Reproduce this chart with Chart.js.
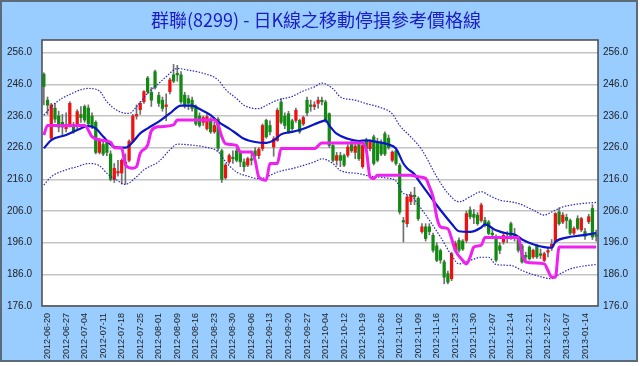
<!DOCTYPE html>
<html><head><meta charset="utf-8">
<script src="https://cdn.jsdelivr.net/npm/chart.js@4.4.0/dist/chart.umd.min.js"></script>
<style>
html,body{margin:0;padding:0;background:#fff;}
canvas{display:block;}
</style></head><body>
<canvas id="c" width="640" height="366"></canvas>
<script>
const title='群聯(8299) - 日K線之移動停損參考價格線';
const dateLabels=['2012-06-20','2012-06-27','2012-07-04','2012-07-11','2012-07-18','2012-07-25','2012-08-01','2012-08-09','2012-08-16','2012-08-23','2012-08-30','2012-09-06','2012-09-13','2012-09-20','2012-09-27','2012-10-04','2012-10-12','2012-10-19','2012-10-26','2012-11-02','2012-11-09','2012-11-16','2012-11-23','2012-11-30','2012-12-07','2012-12-14','2012-12-21','2012-12-27','2013-01-07','2013-01-14'];
const yTicks=[176,186,196,206,216,226,236,246,256];

// daily candles (index 0 = first trading day shown)
const open=[249.2,241.0,229.0,238.5,236.0,234.0,232.0,233.0,232.6,232.6, 236.5,239.0,238.5,236.0,234.0,224.5,227.0,228.0,224.0,216.0, 218.0,218.0,221.0,222.0,228.0,236.0,238.0,240.5,248.0,243.5, 250.0,242.5,241.0,239.0,243.7,249.0,249.5,249.0,242.6,241.5, 241.0,239.0,236.0,234.0,232.0,235.0,231.0,235.0,225.0,216.5, 221.5,223.0,225.0,224.5,221.5,220.5,222.5,225.0,223.5,225.7, 234.6,233.0,226.2,228.3,240.4,236.0,236.7,234.5,234.6,234.6, 233.5,241.0,239.5,239.0,240.0,241.0,240.4,236.7,226.7,222.0, 223.5,223.5,223.6,227.0,224.5,227.0,220.0,228.3,225.7,229.4, 228.0,227.5,230.4,229.0,222.0,225.0,220.4,203.0,202.0,209.0, 211.0,210.0,199.5,201.0,201.0,198.3,195.0,193.5,189.9,186.2, 184.6,193.6,196.7,196.5,196.7,206.3,205.0,204.7,203.0,203.0, 202.5,199.0,198.0,195.0,196.2,198.0,202.0,198.5,197.3,195.0, 192.0,194.6,191.5,195.0,192.5,190.4,193.0,194.5,196.2,205.7, 202.5,204.0,203.0,199.0,203.6,200.0,199.5,202.6,206.8,198.5];
const high=[249.6,242.0,240.0,240.0,237.5,236.5,237.0,240.5,234.0,238.0, 239.0,239.5,239.5,237.0,234.5,229.0,228.0,228.5,225.0,221.0, 222.0,222.5,224.0,228.5,236.5,239.5,240.5,244.0,248.5,245.0, 250.5,243.5,242.0,243.0,248.0,252.3,252.0,250.0,243.5,242.5, 242.0,239.5,237.0,236.0,236.5,235.5,234.0,235.5,225.5,221.0, 224.0,225.0,226.0,225.0,222.5,223.0,225.0,226.0,226.0,233.5, 235.0,234.5,229.5,238.5,241.5,237.0,237.5,235.0,238.5,235.0, 236.0,242.0,241.0,240.5,242.0,242.0,241.0,237.0,227.0,224.5, 224.5,224.0,227.0,228.0,227.5,228.0,227.0,229.0,228.5,230.0, 229.0,228.5,231.0,230.0,225.0,226.0,221.0,204.0,211.0,212.0, 213.5,210.5,202.0,202.0,202.0,199.0,196.0,194.0,190.5,187.0, 193.0,196.5,197.5,197.0,206.0,207.3,206.5,205.5,208.5,204.0, 203.0,200.5,198.5,196.0,199.0,199.5,202.5,200.5,198.0,195.5, 193.0,195.0,194.0,195.5,194.0,193.0,194.5,197.0,205.5,207.0, 205.5,205.0,203.5,201.0,204.5,204.0,200.5,205.0,208.0,200.0];
const low=[239.5,236.5,228.5,234.0,231.0,230.0,231.0,232.5,230.5,232.0, 234.0,234.0,233.0,232.0,224.0,224.0,223.5,223.5,215.5,215.0, 217.0,214.5,214.5,221.5,228.0,235.0,236.5,240.0,243.0,239.0, 244.5,239.0,237.5,234.5,243.0,246.5,247.0,240.0,238.5,238.0, 237.5,233.0,232.5,233.0,231.5,230.5,230.5,225.0,215.0,216.0, 221.0,221.0,221.5,220.0,218.5,220.0,220.5,223.0,222.5,225.0, 229.0,230.0,223.3,228.0,233.5,232.0,230.5,231.5,234.0,230.5, 233.0,236.0,237.5,238.0,238.5,239.5,234.0,226.0,221.5,220.5, 220.0,220.0,223.0,224.5,222.5,222.0,219.5,225.0,225.0,220.5, 221.5,223.5,223.5,225.5,221.5,220.5,205.0,196.2,201.0,208.0, 208.0,203.0,199.0,196.5,198.5,193.0,190.0,189.5,183.0,183.0, 184.0,193.0,193.0,193.5,196.0,203.5,202.0,201.5,202.5,201.0, 198.5,197.5,190.0,192.5,195.5,196.0,197.0,196.5,193.0,189.5, 190.0,190.5,191.0,191.0,191.0,190.0,191.5,193.5,196.0,201.5, 202.0,200.5,198.5,198.5,200.0,199.5,197.0,202.0,197.0,196.5];
const close=[245.3,239.4,239.5,235.0,232.5,232.5,233.0,240.0,231.0,237.4, 235.5,234.7,233.5,233.0,224.5,228.5,224.0,224.5,216.0,219.5, 218.5,222.0,221.5,228.0,236.0,236.5,240.0,243.7,243.7,241.0, 245.0,240.0,238.4,239.5,247.4,247.0,249.0,240.5,239.5,240.0, 238.4,233.5,233.0,235.5,235.8,231.0,233.0,225.8,216.0,220.5, 223.5,222.5,222.0,221.5,220.0,222.5,222.0,223.5,225.5,233.0, 229.4,231.0,228.8,237.8,234.0,233.0,231.0,232.0,237.8,231.0, 235.5,237.0,239.0,239.5,241.0,240.5,234.6,226.7,222.0,223.5, 222.0,220.5,226.2,225.0,226.5,222.5,226.7,225.7,227.8,221.0, 222.0,224.0,224.0,226.0,224.6,221.0,205.7,202.5,210.4,211.0, 210.5,203.6,201.0,197.3,199.5,193.6,190.4,190.5,185.1,183.5, 192.5,195.7,193.6,194.0,205.2,204.2,204.0,202.0,207.9,201.5, 198.9,198.5,190.5,193.6,198.3,197.5,197.8,198.0,193.6,189.9, 191.5,190.9,193.6,191.5,192.0,192.5,193.5,195.5,205.2,202.0, 204.7,203.0,199.0,200.5,200.5,203.6,198.0,204.2,197.8,198.0];

// moving average, bands and trailing stop, read at their bends
const maX=[0,2,6,9,12,14,16,19,22,24,26,28,31,34,37,40,42,45,47,50,52,54,57,60,62,64,67,70,73,75,76,77,79,82,85,87,90,93,95,97,98,100,101,104,107,110,112,115,118,119,122,125,127,129,132,135,137,138,141,145,149];
const maY=[225.8,228.4,230,231.6,232.8,232.1,229.5,226.3,226,227.8,230.5,232.1,234.2,236.8,239.3,239.3,238.2,236.3,234.2,232,230.4,228.8,227.8,227.5,228.3,230.2,231,232,233.4,234.3,234.6,233,230.4,228.8,228.1,228.3,227.8,227,225.7,221,219.5,217.6,215.8,211,206.3,202,199.6,199.4,200.8,201.8,199.9,198.9,198.6,197,195.5,194.6,194.4,196.2,197.6,198.3,199];
const upX=[0,3,7,12,15,17,20,23,25,28,31,33,36,39,43,47,49,52,54,58,60,63,67,70,73,75,78,80,84,87,91,94,96,99,102,106,109,112,115,118,120,123,126,128,132,135,137,140,144,149];
const upY=[236.3,240,242.8,244.7,243.9,240.5,237.6,236.8,238.9,243.2,246.3,248.4,251,250.5,249.5,247.4,244.4,241.5,239.4,238.3,239.4,241,242.2,243.9,245.2,246.4,244.6,242,241,239.9,238.6,236.7,233,229.4,225.3,216.8,211.6,208.9,210.5,212.1,211,209.4,208.9,208.4,206.3,204.7,205.7,207.3,208.2,208.7];
const loX=[0,2,6,9,12,15,17,20,22,25,27,31,34,36,40,43,47,49,52,55,58,60,63,67,70,73,75,78,80,85,88,92,95,97,99,101,104,107,110,112,115,118,120,122,126,129,133,137,138,142,145,149];
const loY=[214.2,216.8,219,220,221,220.3,217.9,215.5,214.4,216.8,219,221.6,225.3,227.1,226.8,226.3,224.7,221.6,218.3,217,216.2,216.7,218.3,219.4,220.4,221.5,222.5,221,218.8,217.8,217,216.5,215.5,211.5,211,208,203.1,197.8,192,189.3,190.4,191.4,191.4,189.1,188.8,187.2,185.6,184.6,185.3,187.7,188.5,189.1];
const stX=[0,1,11,13,15,18,19,21,22,24,25,26,28,29,31,35,36,46,47,48,49,52,53,56,57,58,60,61,63,64,73,75,86,87,88,89,90,99,101,103,104,105,106,107,109,110,111,113,114,115,116,118,119,128,129,130,135,136,137,138,139,149];
const stY=[230,233,233,229.5,228.4,227.7,226,225.8,220.5,219.5,220,224.2,226.8,231.3,232.6,233.2,234.7,234.7,233.2,229.5,227.3,226.7,224.6,224.6,222,216.7,215.7,221,221,225.7,225.7,227.5,227.5,225.2,216.7,216.2,217.3,217.3,216.8,216.3,213.7,210.5,204.1,201,200.4,197.3,193.6,190.4,189.3,191.4,194.6,195.2,197.6,197.6,192.5,189.9,189.3,187.2,185.1,185.1,194.6,194.6];

const FONT="'Liberation Sans', Arial, sans-serif";
const n=open.length;
const pts=(xs,ys)=>xs.map((x,k)=>({x,y:ys[k]}));
const bodyCol=open.map((o,i)=>close[i]>o?'#f01010':close[i]<o?'#128a12':'#808080');

const frame={
  id:'frame',
  beforeDraw(ch){
    const c=ch.ctx,a=ch.chartArea;
    c.save();
    c.fillStyle='#fff';c.fillRect(0,0,640,366);
    c.fillStyle='#99ccff';c.fillRect(1,1,636,360);
    c.strokeStyle='#5d6a78';c.lineWidth=2;c.strokeRect(1,1,636,360);
    c.fillStyle='#fff';c.fillRect(a.left,a.top,a.right-a.left,a.bottom-a.top);
    c.restore();
  },
  afterDraw(ch){
    const c=ch.ctx,a=ch.chartArea;
    c.save();
    c.strokeStyle='#4a4a4a';c.lineWidth=1.5;
    c.strokeRect(a.left,a.top,a.right-a.left,a.bottom-a.top);
    c.fillStyle='#1c1cc4';c.font="18px 'Noto Sans CJK TC', sans-serif";
    c.textAlign='center';c.textBaseline='middle';
    c.fillText(title,316,20);
    c.restore();
  }
};

const yAxis=(pos,pad)=>({
  position:pos,min:176,max:260,
  afterBuildTicks:s=>{s.ticks=yTicks.map(v=>({value:v}));},
  afterFit:s=>{s.width=42;},
  border:{display:false},
  grid:pos==='left'?{color:'#c4c4c4',lineWidth:1.5,drawTicks:false}:{display:false,drawTicks:false},
  ticks:{padding:pad,color:'#222',font:{size:10,family:FONT},callback:v=>v.toFixed(1)}
});

new Chart(document.getElementById('c'),{
  type:'bar',
  data:{datasets:[
    {type:'line',label:'stop',data:pts(stX,stY),borderColor:'#f020f0',borderWidth:3,pointRadius:0,cubicInterpolationMode:'monotone',order:0},
    {type:'line',label:'ma',data:pts(maX,maY),borderColor:'#0a14c8',borderWidth:2.2,pointRadius:0,cubicInterpolationMode:'monotone',order:0},
    {type:'line',label:'upper',data:pts(upX,upY),borderColor:'#2a2ab8',borderWidth:1.2,borderDash:[1.5,1.5],pointRadius:0,cubicInterpolationMode:'monotone',order:0},
    {type:'line',label:'lower',data:pts(loX,loY),borderColor:'#2a2ab8',borderWidth:1.2,borderDash:[1.5,1.5],pointRadius:0,cubicInterpolationMode:'monotone',order:0},
    {label:'body',data:open.map((o,i)=>({x:i,y:[o,close[i]]})),backgroundColor:bodyCol,barThickness:2.6,grouped:false,order:1},
    {label:'wick',data:open.map((o,i)=>({x:i,y:[low[i],high[i]]})),backgroundColor:'#707070',barThickness:1,grouped:false,order:2}
  ]},
  options:{
    responsive:false,animation:false,devicePixelRatio:1,
    layout:{padding:{top:40,left:0,right:0,bottom:0}},
    plugins:{legend:{display:false},tooltip:{enabled:false},title:{display:false}},
    scales:{
      x:{type:'linear',min:-0.5,max:n-0.5,offset:false,
        afterBuildTicks:s=>{s.ticks=dateLabels.map((_,k)=>({value:k*5+1}));},
        afterFit:s=>{s.height=60;},
        border:{display:false},grid:{display:false,drawTicks:false},
        ticks:{autoSkip:false,minRotation:90,maxRotation:90,padding:7,color:'#222',font:{size:9,family:FONT},
          callback:(v,k)=>dateLabels[k]}},
      y:yAxis('left',10),
      y2:yAxis('right',5)
    }
  },
  plugins:[frame]
});
</script>
</body></html>
